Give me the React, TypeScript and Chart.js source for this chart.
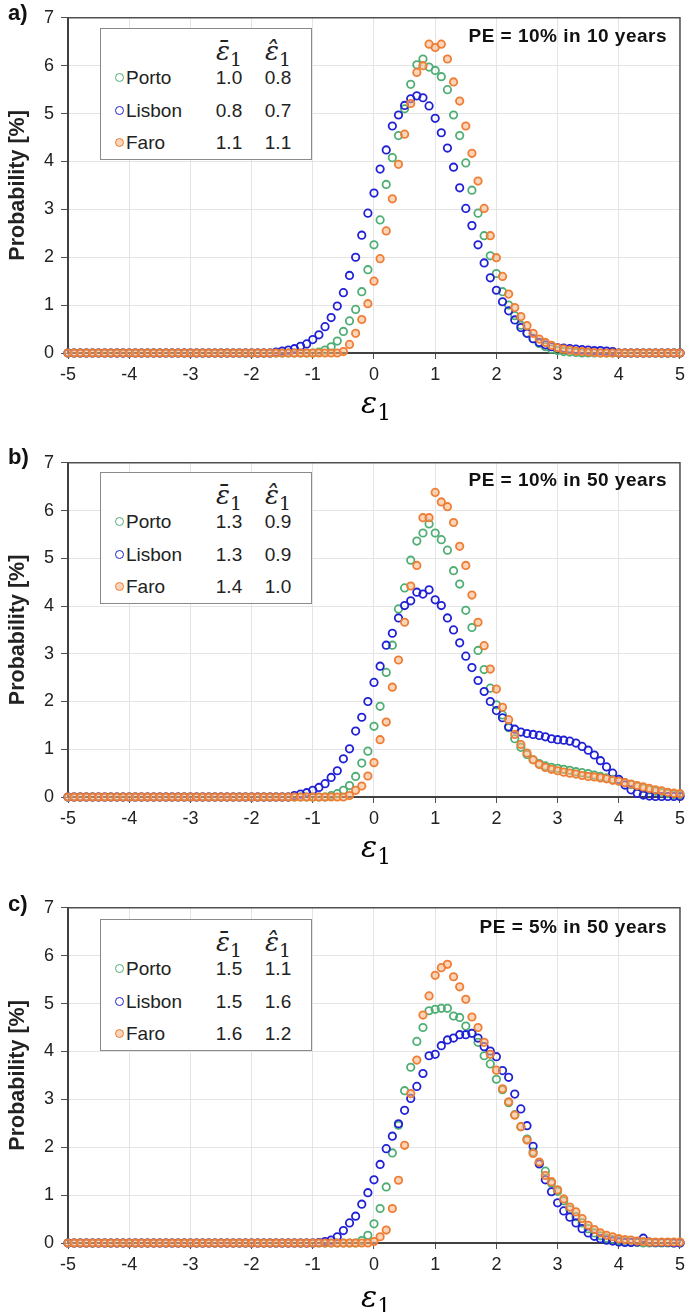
import React, { useEffect, useRef } from "react";
import { Chart, registerables } from "chart.js";

Chart.register(...registerables);

// x grid: -5.0 ... 5.0 step 0.1 (101 points)
const X_VALUES: number[] = Array.from({ length: 101 }, (_, i) => (i - 50) / 10);
const X_TICKS = [-5, -4, -3, -2, -1, 0, 1, 2, 3, 4, 5];
const Y_TICKS = [0, 1, 2, 3, 4, 5, 6, 7];
const SERIES_NAMES = ["Porto", "Lisbon", "Faro"];
const SERIES_COLORS = ["#4fae74", "#2020d6", "#ef7d34"];
const SERIES_FILLS = ["rgba(255,255,255,0)", "rgba(255,255,255,0)", "rgba(248,178,130,0.55)"];

// ---- Panel a) PE = 10% in 10 years ----
const PORTO_A = [
  0, 0, 0, 0, 0, 0, 0, 0, 0, 0,
  0, 0, 0, 0, 0, 0, 0, 0, 0, 0,
  0, 0, 0, 0, 0, 0, 0, 0, 0, 0,
  0, 0, 0, 0, 0, 0, 0, 0, 0, 0,
  0, 0.02, 0.06, 0.13, 0.25, 0.45, 0.67, 0.91, 1.28, 1.74,
  2.26, 2.78, 3.52, 4.08, 4.54, 5.1, 5.61, 6.02, 6.14, 5.97,
  5.9, 5.77, 5.5, 4.97, 4.54, 3.97, 3.4, 2.92, 2.45, 2.03,
  1.66, 1.28, 1.0, 0.78, 0.58, 0.42, 0.3, 0.2, 0.13, 0.08,
  0.05, 0.03, 0.02, 0.01, 0, 0, 0, 0, 0, 0,
  0, 0, 0, 0, 0, 0, 0, 0, 0, 0,
  0,
];
const LISBON_A = [
  0, 0, 0, 0, 0, 0, 0, 0, 0, 0,
  0, 0, 0, 0, 0, 0, 0, 0, 0, 0,
  0, 0, 0, 0, 0, 0, 0, 0, 0, 0,
  0, 0, 0, 0, 0.02, 0.04, 0.06, 0.09, 0.14, 0.19,
  0.28, 0.38, 0.55, 0.74, 0.98, 1.26, 1.62, 2.0, 2.46, 2.92,
  3.34, 3.84, 4.24, 4.74, 4.97, 5.17, 5.31, 5.37, 5.33, 5.16,
  4.9, 4.6, 4.28, 3.88, 3.45, 3.02, 2.66, 2.26, 1.88, 1.57,
  1.31, 1.07, 0.88, 0.69, 0.53, 0.41, 0.3, 0.22, 0.17, 0.13,
  0.11, 0.1, 0.09, 0.08, 0.07, 0.06, 0.05, 0.05, 0.04, 0.03,
  0, 0, 0, 0, 0, 0, 0, 0, 0, 0,
  0,
];
const FARO_A = [
  0, 0, 0, 0, 0, 0, 0, 0, 0, 0,
  0, 0, 0, 0, 0, 0, 0, 0, 0, 0,
  0, 0, 0, 0, 0, 0, 0, 0, 0, 0,
  0, 0, 0, 0, 0, 0, 0, 0, 0, 0,
  0, 0, 0, 0, 0, 0.03, 0.18, 0.41, 0.7, 1.03,
  1.5, 1.97, 2.55, 3.22, 3.94, 4.57, 5.21, 5.86, 6.0, 6.45,
  6.38, 6.45, 6.14, 5.66, 5.26, 4.74, 4.17, 3.59, 3.02, 2.45,
  1.99, 1.6, 1.23, 0.95, 0.76, 0.57, 0.41, 0.29, 0.22, 0.16,
  0.11, 0.08, 0.06, 0.04, 0.03, 0.02, 0.01, 0, 0, 0,
  0, 0, 0, 0, 0, 0, 0, 0, 0, 0,
  0,
];

// ---- Panel b) PE = 10% in 50 years ----
const PORTO_B = [
  0, 0, 0, 0, 0, 0, 0, 0, 0, 0,
  0, 0, 0, 0, 0, 0, 0, 0, 0, 0,
  0, 0, 0, 0, 0, 0, 0, 0, 0, 0,
  0, 0, 0, 0, 0, 0, 0, 0, 0, 0,
  0, 0, 0, 0.03, 0.07, 0.14, 0.24, 0.43, 0.71, 0.96,
  1.48, 1.9, 2.61, 3.18, 3.94, 4.38, 4.96, 5.36, 5.53, 5.72,
  5.53, 5.39, 5.17, 4.74, 4.46, 3.91, 3.55, 3.07, 2.67, 2.28,
  1.93, 1.72, 1.45, 1.22, 1.04, 0.89, 0.78, 0.7, 0.65, 0.62,
  0.6, 0.58, 0.56, 0.53, 0.51, 0.49, 0.46, 0.43, 0.4, 0.37,
  0.34, 0.3, 0.26, 0.22, 0.18, 0.15, 0.12, 0.09, 0.07, 0.05,
  0.04,
];
const LISBON_B = [
  0, 0, 0, 0, 0, 0, 0, 0, 0, 0,
  0, 0, 0, 0, 0, 0, 0, 0, 0, 0,
  0, 0, 0, 0, 0, 0, 0, 0, 0, 0,
  0, 0, 0, 0, 0, 0, 0, 0.03, 0.06, 0.09,
  0.14, 0.2, 0.28, 0.41, 0.55, 0.8, 1.01, 1.38, 1.67, 2.0,
  2.4, 2.74, 3.18, 3.43, 3.75, 4.01, 4.11, 4.29, 4.25, 4.34,
  4.13, 4.01, 3.75, 3.5, 3.23, 2.95, 2.71, 2.44, 2.21, 2.0,
  1.81, 1.66, 1.47, 1.42, 1.36, 1.33, 1.31, 1.29, 1.26, 1.22,
  1.2, 1.19, 1.17, 1.13, 1.06, 0.98, 0.88, 0.76, 0.63, 0.5,
  0.37, 0.25, 0.15, 0.08, 0.04, 0.02, 0.01, 0.01, 0.01, 0.01,
  0.01,
];
const FARO_B = [
  0, 0, 0, 0, 0, 0, 0, 0, 0, 0,
  0, 0, 0, 0, 0, 0, 0, 0, 0, 0,
  0, 0, 0, 0, 0, 0, 0, 0, 0, 0,
  0, 0, 0, 0, 0, 0, 0, 0, 0, 0,
  0, 0, 0, 0, 0, 0, 0.03, 0.14, 0.23, 0.44,
  0.72, 1.2, 1.57, 2.3, 2.87, 3.66, 4.42, 4.85, 5.85, 5.85,
  6.38, 6.18, 6.08, 5.75, 5.25, 4.85, 4.23, 3.66, 3.17, 2.68,
  2.26, 1.88, 1.62, 1.31, 1.1, 0.92, 0.78, 0.68, 0.62, 0.58,
  0.55, 0.52, 0.5, 0.48, 0.45, 0.43, 0.42, 0.4, 0.38, 0.35,
  0.33, 0.3, 0.27, 0.24, 0.21, 0.18, 0.15, 0.13, 0.1, 0.08,
  0.07,
];

// ---- Panel c) PE = 5% in 50 years ----
const PORTO_C = [
  0, 0, 0, 0, 0, 0, 0, 0, 0, 0,
  0, 0, 0, 0, 0, 0, 0, 0, 0, 0,
  0, 0, 0, 0, 0, 0, 0, 0, 0, 0,
  0, 0, 0, 0, 0, 0, 0, 0, 0, 0,
  0, 0, 0, 0, 0, 0, 0, 0, 0.05, 0.16,
  0.4, 0.72, 1.17, 1.88, 2.46, 3.18, 3.67, 4.21, 4.5, 4.85,
  4.88, 4.9, 4.9, 4.74, 4.71, 4.53, 4.38, 4.19, 3.91, 3.74,
  3.42, 3.2, 2.93, 2.68, 2.43, 2.17, 1.9, 1.68, 1.5, 1.25,
  1.08, 0.88, 0.7, 0.55, 0.42, 0.3, 0.21, 0.15, 0.1, 0.07,
  0.05, 0.03, 0.02, 0.01, 0, 0, 0, 0, 0, 0,
  0,
];
const LISBON_C = [
  0, 0, 0, 0, 0, 0, 0, 0, 0, 0,
  0, 0, 0, 0, 0, 0, 0, 0, 0, 0,
  0, 0, 0, 0, 0, 0, 0, 0, 0, 0,
  0, 0, 0, 0, 0, 0, 0, 0, 0, 0,
  0, 0.01, 0.03, 0.06, 0.13, 0.26, 0.42, 0.56, 0.81, 1.05,
  1.32, 1.64, 1.97, 2.23, 2.49, 2.77, 3.02, 3.27, 3.54, 3.91,
  3.94, 4.12, 4.24, 4.28, 4.35, 4.35, 4.38, 4.28, 4.1, 4.01,
  3.89, 3.6, 3.46, 3.11, 2.8, 2.45, 2.02, 1.65, 1.32, 1.07,
  0.84, 0.67, 0.54, 0.42, 0.3, 0.21, 0.14, 0.09, 0.06, 0.04,
  0.02, 0.01, 0.01, 0.02, 0.1, 0.02, 0.01, 0.01, 0.01, 0,
  0,
];
const FARO_C = [
  0, 0, 0, 0, 0, 0, 0, 0, 0, 0,
  0, 0, 0, 0, 0, 0, 0, 0, 0, 0,
  0, 0, 0, 0, 0, 0, 0, 0, 0, 0,
  0, 0, 0, 0, 0, 0, 0, 0, 0, 0,
  0, 0, 0, 0, 0, 0, 0, 0, 0, 0,
  0.03, 0.13, 0.27, 0.72, 1.31, 2.04, 3.12, 3.82, 4.76, 5.16,
  5.59, 5.75, 5.82, 5.56, 5.35, 5.09, 4.72, 4.5, 4.19, 3.94,
  3.61, 3.22, 2.95, 2.67, 2.43, 2.15, 1.87, 1.69, 1.41, 1.28,
  1.11, 0.92, 0.75, 0.65, 0.51, 0.37, 0.28, 0.21, 0.16, 0.13,
  0.09, 0.07, 0.06, 0.04, 0.03, 0.02, 0.02, 0.02, 0.02, 0.02,
  0.02,
];

// legend table values (mean, mode) per city: Porto, Lisbon, Faro
const MEAN_A = ["1.0", "0.8", "1.1"];
const MODE_A = ["0.8", "0.7", "1.1"];
const MEAN_B = ["1.3", "1.3", "1.4"];
const MODE_B = ["0.9", "0.9", "1.0"];
const MEAN_C = ["1.5", "1.5", "1.6"];
const MODE_C = ["1.1", "1.6", "1.2"];

const TITLES = ["PE = 10% in 10 years", "PE = 10% in 50 years", "PE = 5% in 50 years"];
const PANEL_LABELS = ["a)", "b)", "c)"];
const Y_TITLE = "Probability [%]";

const SANS = '"Liberation Sans", Arial, Helvetica, sans-serif';
const SERIF = '"DejaVu Serif", "Liberation Serif", serif';

type PanelCfg = {
  label: string;
  title: string;
  series: number[][];
  mean: string[];
  mode: string[];
  canvasTop: number;
  canvasHeight: number;
  plotTop: number;
  plotBottom: number;
  xTitleOffset: number;
};

const PANELS: PanelCfg[] = [
  { label: PANEL_LABELS[0], title: TITLES[0], series: [PORTO_A, LISBON_A, FARO_A], mean: MEAN_A, mode: MODE_A, canvasTop: 0, canvasHeight: 445, plotTop: 16, plotBottom: 353, xTitleOffset: 50 },
  { label: PANEL_LABELS[1], title: TITLES[1], series: [PORTO_B, LISBON_B, FARO_B], mean: MEAN_B, mode: MODE_B, canvasTop: 445, canvasHeight: 445, plotTop: 460, plotBottom: 797, xTitleOffset: 50 },
  { label: PANEL_LABELS[2], title: TITLES[2], series: [PORTO_C, LISBON_C, FARO_C], mean: MEAN_C, mode: MODE_C, canvasTop: 890, canvasHeight: 422, plotTop: 907, plotBottom: 1243, xTitleOffset: 54 },
];

const PLOT_LEFT = 68;
const PLOT_RIGHT = 684;
const X_AXIS_H = 40;

const framePlugin = {
  id: "frame",
  beforeDatasetsDraw(chart: any) {
    const { ctx, chartArea: a } = chart;
    ctx.save();
    ctx.strokeStyle = "#505050";
    ctx.lineWidth = 1.5;
    ctx.beginPath();
    ctx.moveTo(a.left, a.top);
    ctx.lineTo(a.right, a.top);
    ctx.lineTo(a.right, a.bottom);
    ctx.stroke();
    ctx.restore();
  },
};

function Eps({ accent, size }: { accent: string; size: number }) {
  return (
    <span style={{ whiteSpace: "nowrap" }}>
      <span style={{ fontFamily: SERIF, fontStyle: "italic", fontSize: size }}>{"ε" + accent}</span>
      <span style={{ fontFamily: SERIF, fontSize: size * 0.72, position: "relative", top: size * 0.22 }}>1</span>
    </span>
  );
}

function Panel({ cfg }: { cfg: PanelCfg }) {
  const ref = useRef<HTMLCanvasElement | null>(null);

  useEffect(() => {
    const canvas = ref.current;
    if (!canvas) return;
    const padTop = cfg.plotTop - cfg.canvasTop;
    const padBottom = cfg.canvasHeight - (cfg.plotBottom - cfg.canvasTop) - X_AXIS_H;
    const orders = [2, 1, 0];
    const datasets = SERIES_NAMES.map((name, si) => ({
      label: name,
      data: X_VALUES.map((x, i) => ({ x, y: cfg.series[si][i] })),
      showLine: false,
      borderColor: SERIES_COLORS[si],
      backgroundColor: SERIES_FILLS[si],
      pointRadius: 3.7,
      pointBorderWidth: 1.8,
      pointHoverRadius: 3.7,
      clip: false as any,
      order: orders[si],
    }));
    const tickFont = { family: SANS, size: 18 };
    const chart = new Chart(canvas, {
      type: "scatter",
      data: { datasets },
      options: {
        responsive: false,
        animation: false,
        devicePixelRatio: 1,
        events: [],
        layout: { padding: { left: 0, right: 690 - PLOT_RIGHT, top: padTop, bottom: padBottom } },
        plugins: { legend: { display: false }, tooltip: { enabled: false } },
        scales: {
          x: {
            type: "linear",
            min: -5,
            max: 5,
            afterFit: (s: any) => { s.height = X_AXIS_H; },
            afterBuildTicks: (s: any) => { s.ticks = X_TICKS.map((v) => ({ value: v })); },
            ticks: { font: tickFont, color: "#222", padding: 5, maxRotation: 0, autoSkip: false },
            grid: { color: "#e4e4e4", lineWidth: 1, tickColor: "#505050", tickLength: 6 },
            border: { display: true, color: "#404040", width: 2 },
          },
          y: {
            type: "linear",
            min: 0,
            max: 7,
            afterFit: (s: any) => { s.width = PLOT_LEFT; },
            afterBuildTicks: (s: any) => { s.ticks = Y_TICKS.map((v) => ({ value: v })); },
            ticks: { font: tickFont, color: "#222", padding: 7, autoSkip: false },
            grid: { color: "#e4e4e4", lineWidth: 1, tickColor: "#505050", tickLength: 7 },
            border: { display: true, color: "#404040", width: 2 },
            title: {
              display: true,
              text: Y_TITLE,
              color: "#222",
              font: { family: SANS, size: 21.5, weight: "bold" },
              padding: { top: 5, bottom: 0 },
            },
          },
        },
      },
      plugins: [framePlugin],
    } as any);
    return () => chart.destroy();
  }, [cfg]);

  const boxTop = cfg.plotTop + 12;
  const boxLeft = 100;
  const rowY = [48, 81, 113];
  const centered = (left: number, top: number): React.CSSProperties => ({
    position: "absolute",
    left,
    top,
    transform: "translate(-50%, -50%)",
    whiteSpace: "nowrap",
    lineHeight: 1,
  });

  return (
    <>
      <canvas
        ref={ref}
        width={690}
        height={cfg.canvasHeight}
        style={{ position: "absolute", left: 0, top: cfg.canvasTop, width: 690, height: cfg.canvasHeight }}
      />
      <div style={{ position: "absolute", left: 8, top: cfg.plotTop - 14, fontFamily: SANS, fontWeight: "bold", fontSize: 22, lineHeight: 1, color: "#111" }}>
        {cfg.label}
      </div>
      <div style={{ position: "absolute", right: 690 - 667, top: cfg.plotTop + 10, fontFamily: SANS, fontWeight: "bold", fontSize: 19, letterSpacing: 0.5, lineHeight: 1, color: "#111", whiteSpace: "nowrap" }}>
        {cfg.title}
      </div>
      <div
        style={{
          position: "absolute",
          left: boxLeft,
          top: boxTop,
          width: 212,
          height: 132,
          boxSizing: "border-box",
          border: "1px solid #8a8a8a",
          background: "#fff",
          fontFamily: SANS,
          fontSize: 19,
          color: "#222",
        }}
      >
        <div style={centered(128, 22)}><Eps accent={"\u0304"} size={26} /></div>
        <div style={centered(177, 22)}><Eps accent={"\u0302"} size={26} /></div>
        {SERIES_NAMES.map((name, si) => (
          <React.Fragment key={name}>
            <div
              style={{
                position: "absolute",
                left: 18 - 4.5,
                top: rowY[si] - 4.5,
                width: 9,
                height: 9,
                boxSizing: "border-box",
                borderRadius: "50%",
                border: `1.8px solid ${SERIES_COLORS[si]}`,
                background: SERIES_FILLS[si],
              }}
            />
            <div style={{ position: "absolute", left: 25, top: rowY[si], transform: "translateY(-50%)", lineHeight: 1, whiteSpace: "nowrap" }}>{name}</div>
            <div style={centered(128, rowY[si])}>{cfg.mean[si]}</div>
            <div style={centered(177, rowY[si])}>{cfg.mode[si]}</div>
          </React.Fragment>
        ))}
      </div>
      <div style={centered((PLOT_LEFT + PLOT_RIGHT) / 2, cfg.plotBottom + cfg.xTitleOffset)}>
        <Eps accent="" size={30} />
      </div>
    </>
  );
}

export default function App() {
  return (
    <div style={{ position: "absolute", left: 0, top: 0, width: 690, height: 1312, background: "#fff", overflow: "hidden" }}>
      {PANELS.map((p) => (
        <Panel key={p.label} cfg={p} />
      ))}
    </div>
  );
}
